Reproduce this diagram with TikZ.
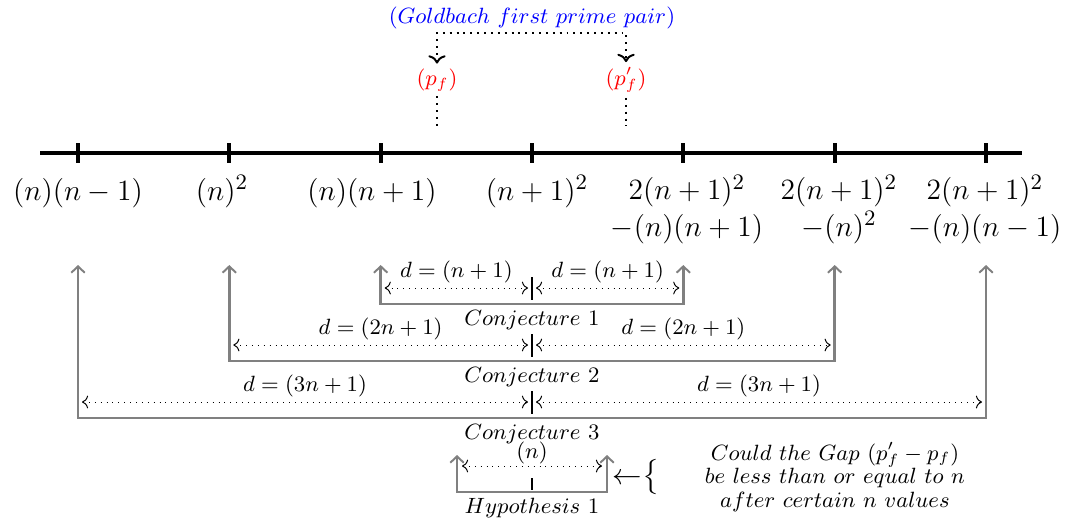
\documentclass[tikz,border=0pt]{standalone}
\usepackage{amsmath,amssymb}
\usepackage{xcolor}
\usetikzlibrary{positioning,arrows.meta}

\begin{document}
\begin{tikzpicture}[x=0.4073pt,y=-0.4073pt,
  axis/.style={line width=1.5pt},
  bracket/.style={gray,line width=1pt,{Straight Barb[length=2.6pt,width=5.5pt,line width=0.8pt]}-{Straight Barb[length=2.6pt,width=5.5pt,line width=0.8pt]}},
  gap/.style={dotted,<->},
  lbl/.style={font=\fontsize{13}{14.7}\selectfont,align=center,anchor=base},
  tag/.style={font=\small,inner sep=2pt,text=black}]
\useasboundingbox (0,0) rectangle (1071,520);
% number line with ticks
\draw[axis] (40,153) -- (1022,153);
\foreach \i/\x in {1/78,2/229.3,3/380.7,4/532,5/683.3,6/834.7,7/986}{
  \coordinate (t\i) at (\x,153);
  \draw[axis] (\x,143) -- (\x,163);
}
\foreach \i/\x/\t in {1/78/{$(n)(n-1)$},2/222/{$(n)^2$},3/372/{$(n)(n+1)$},4/537/{$(n+1)^2$}}
  \node[lbl] (l\i) at (\x,200) {\t};
\foreach \i/\x/\t in {5/687/{$2(n+1)^2$\\$-(n)(n+1)$},6/839/{$2(n+1)^2$\\$-(n)^2$},7/985/{$2(n+1)^2$\\$-(n)(n-1)$}}
  \node[lbl] (l\i) at (\x,236) {\t};
% first prime pair
\node[tag,text=red] (pf) at (437,80) {$(p_f)$};
\node[tag,text=red] (pfp) at (626,80) {$(p'_f)$};
\node[tag,text=blue] (gb) at (532,18) {$(Goldbach\ first\ prime\ pair)$};
\coordinate (gl) at (437,33);
\coordinate (gr) at (626,33);
\coordinate (pfb) at (437,126);
\coordinate (pfpb) at (626,126);
\draw[dotted,thick,<->] (pf) -- (gl) -- (gr) -- (pfp);
\draw[dotted,thick] (pf) -- (pfb);
\draw[dotted,thick] (pfp) -- (pfpb);
% conjectures
\foreach \n/\a/\b/\y/\d in {1/380.7/683.3/304/{n+1},2/229.3/834.7/361/{2n+1},3/78/986/418/{3n+1}}{
  \pgfmathsetmacro\dy{\y-16}
  \coordinate (c\n a) at (\a,265);
  \coordinate (c\n b) at (\a,\y);
  \coordinate (c\n c) at (\b,\y);
  \coordinate (c\n d) at (\b,265);
  \draw[bracket] (c\n a) -- (c\n b) -- node[below,tag]{$Conjecture\ \n$} (c\n c) -- (c\n d);
  \coordinate (g\n l) at (\a+4,\dy);
  \coordinate (g\n m) at (528,\dy);
  \coordinate (g\n n) at (536,\dy);
  \coordinate (g\n r) at (\b-4,\dy);
  \draw[gap] (g\n l) -- node[above,tag]{$d=(\d)$} (g\n m);
  \draw[gap] (g\n n) -- node[above,tag]{$d=(\d)$} (g\n r);
  \draw[line width=1.2pt] (532,\dy-11) -- (532,\dy+12);
}
% hypothesis
\coordinate (ha) at (457,455);
\coordinate (hb) at (457,492);
\coordinate (hc) at (607,492);
\coordinate (hd) at (607,455);
\draw[bracket] (ha) -- (hb) -- node[below,tag]{$Hypothesis\ 1$} (hc) -- (hd);
\coordinate (hl) at (462,466);
\coordinate (hr) at (602,466);
\draw[gap] (hl) -- node[above,tag,inner sep=0.5pt]{$(n)$} (hr);
\draw[line width=1.2pt] (532,478) -- (532,490);
\node[font=\large,inner sep=0pt] (harr) at (636,477) {${\leftarrow}{\big\{}$};
\node[tag,align=center,font={\small\baselineskip=9.6pt}] (q) at (835,477)
  {$Could\ the\ Gap\ (p'_f-p_f)$\\$be\ less\ than\ or\ equal\ to\ n$\\$after\ certain\ n\ values$};
\end{tikzpicture}
\end{document}
